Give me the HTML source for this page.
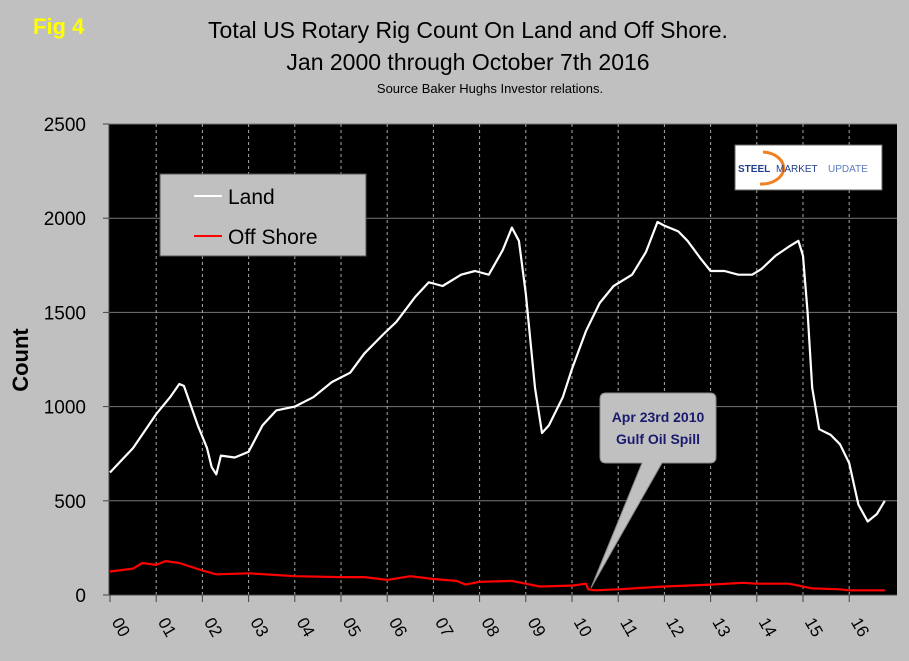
<!DOCTYPE html>
<html><head><meta charset="utf-8"><style>
body{margin:0;background:#c0c0c0;}
svg{display:block;font-family:"Liberation Sans",sans-serif;}
</style></head><body>
<svg id="chart" width="909" height="661" viewBox="0 0 909 661">
<rect width="909" height="661" fill="#c0c0c0"/>
<text x="33" y="34" font-size="22" font-weight="bold" fill="#ffff00">Fig 4</text>
<text x="468" y="38" font-size="23" text-anchor="middle" fill="#000">Total US Rotary Rig Count On Land and Off Shore.</text>
<text x="468" y="70" font-size="23" text-anchor="middle" fill="#000">Jan 2000 through October 7th 2016</text>
<text x="490" y="93" font-size="13" text-anchor="middle" fill="#000">Source Baker Hughs Investor relations.</text>
<rect x="109" y="124" width="788" height="471" fill="#000"/>
<g id="grid"></g>
<g id="axes"></g>
<text transform="translate(28,360) rotate(-90)" font-size="22" font-weight="bold" text-anchor="middle" fill="#000">Count</text>
<g id="series"></g>
<g>
<rect x="160" y="174" width="206" height="82" fill="#c0c0c0" stroke="#555" stroke-width="1"/>
<line x1="194" y1="196" x2="222" y2="196" stroke="#fff" stroke-width="2"/>
<text x="228" y="204" font-size="21" fill="#000">Land</text>
<line x1="194" y1="236" x2="222" y2="236" stroke="#f00" stroke-width="2"/>
<text x="228" y="244" font-size="21" fill="#000">Off Shore</text>
</g>
<g>
<rect x="735" y="145" width="147" height="45" fill="#fff" stroke="#666"/>
<path d="M763,152 A22,16 0 1 1 760,184" fill="none" stroke="#f08020" stroke-width="3"/>
<text x="738" y="172" font-size="10" font-weight="bold" fill="#1f3f8f">STEEL</text>
<text x="776" y="172" font-size="10" fill="#1f3f8f">MARKET</text>
<text x="828" y="172" font-size="10" fill="#5a7bbf">UPDATE</text>
</g>
<g>
<path d="M606,393 H710 Q716,393 716,399 V457 Q716,463 710,463 H662 L591,588 L642,463 H606 Q600,463 600,457 V399 Q600,393 606,393 Z" fill="#c0c0c0" stroke="#888"/>
<text x="658" y="422" font-size="14" font-weight="bold" text-anchor="middle" fill="#1a1a6e">Apr 23rd 2010</text>
<text x="658" y="444" font-size="14" font-weight="bold" text-anchor="middle" fill="#1a1a6e">Gulf Oil Spill</text>
</g>
</svg>
<script>
const yearLabels=["00","01","02","03","04","05","06","07","08","09","10","11","12","13","14","15","16"];
const yTicks=[0,500,1000,1500,2000,2500];
const landT=[0,0.5,1.0,1.3,1.5,1.6,1.9,2.1,2.2,2.3,2.4,2.7,3.0,3.3,3.6,4.0,4.4,4.8,5.2,5.5,5.9,6.2,6.6,6.9,7.2,7.6,7.9,8.2,8.5,8.7,8.85,9.0,9.2,9.35,9.5,9.8,10.0,10.3,10.6,10.9,11.3,11.6,11.85,12.0,12.3,12.5,12.8,13.0,13.3,13.6,13.9,14.1,14.4,14.7,14.9,15.0,15.1,15.2,15.35,15.6,15.8,16.0,16.2,16.4,16.6,16.77];
const landV=[650,780,960,1050,1120,1110,900,780,680,640,740,730,760,900,980,1000,1050,1130,1180,1280,1380,1450,1580,1660,1640,1700,1720,1700,1830,1950,1880,1600,1100,860,900,1050,1200,1400,1550,1640,1700,1820,1980,1960,1930,1880,1780,1720,1720,1700,1700,1730,1800,1850,1880,1800,1500,1100,880,850,800,700,480,390,430,500];
const offT=[0,0.5,0.7,1.0,1.2,1.5,2.0,2.3,3.0,4.0,5.0,5.5,6.0,6.5,7.0,7.5,7.7,8.0,8.7,9.0,9.3,10.0,10.3,10.35,10.5,11.0,12.0,13.0,13.7,14.0,14.7,15.2,15.8,16.0,16.77];
const offV=[125,140,170,160,180,170,130,110,115,100,95,95,80,100,85,75,55,70,75,60,45,50,60,30,25,30,45,55,65,60,60,35,30,25,25];
const NS="http://www.w3.org/2000/svg";
const X0=110,YW=46.2,Y0=595,PH=471,YMAX=2500,PL=109,PR=897;
function xs(t){return X0+YW*t;}
function ys(v){return Y0-v/YMAX*PH;}
function mk(tag,attrs,parent){const e=document.createElementNS(NS,tag);for(const k in attrs)e.setAttribute(k,attrs[k]);parent.appendChild(e);return e;}
const grid=document.getElementById('grid'),axes=document.getElementById('axes'),series=document.getElementById('series');
yTicks.forEach(v=>{
  const l=mk('line',{x1:PL,x2:PR,y1:ys(v),y2:ys(v),stroke:'#777','stroke-width':1},grid);
  
  
  mk('line',{x1:PL-6,x2:PL,y1:ys(v),y2:ys(v),stroke:'#444'},axes);
  const t=mk('text',{x:86,y:ys(v)+7,'font-size':19,'text-anchor':'end',fill:'#000'},axes);
  t.textContent=v;
  
  
});
yearLabels.forEach((lab,i)=>{
  const x=xs(i);
  if(i>0){const g=mk('line',{x1:x,x2:x,y1:124,y2:595,stroke:'#aaa','stroke-dasharray':'3,3','stroke-width':1},grid);
  
  }
  mk('line',{x1:x,x2:x,y1:595,y2:602,stroke:'#444'},axes);
  const t=mk('text',{transform:`translate(${x+6},${630}) rotate(60)`,'font-size':17,'text-anchor':'middle',fill:'#000'},axes);
  t.textContent=lab;
  
  
});
mk('line',{x1:PL,x2:PL,y1:124,y2:595,stroke:'#444'},axes);
mk('line',{x1:PL,x2:PR,y1:595,y2:595,stroke:'#444'},axes);
function pts(T,V){return T.map((t,i)=>xs(t).toFixed(1)+','+ys(V[i]).toFixed(1)).join(' ');}
const land=mk('polyline',{points:pts(landT,landV),fill:'none',stroke:'#fff','stroke-width':2.2,'stroke-linejoin':'round'},series);


const off=mk('polyline',{points:pts(offT,offV),fill:'none',stroke:'#f00','stroke-width':2.2,'stroke-linejoin':'round'},series);


</script>
</body></html>
